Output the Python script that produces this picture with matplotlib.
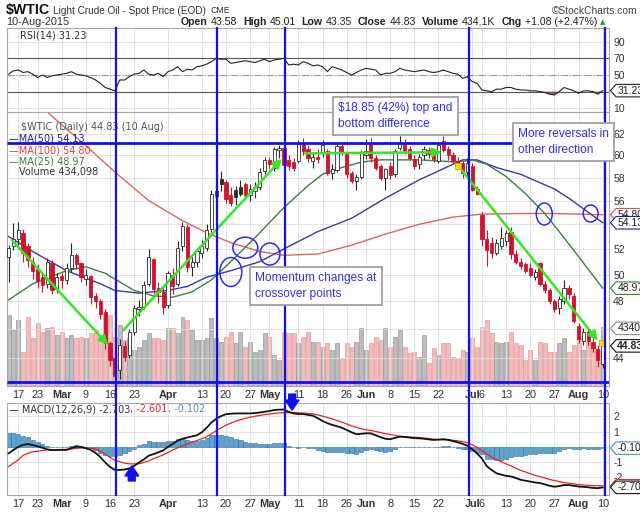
import numpy as np
import pandas as pd
import matplotlib
matplotlib.use('Agg')
import matplotlib.pyplot as plt
import matplotlib.transforms as mtrans
from matplotlib.patches import Rectangle, Ellipse
from matplotlib.lines import Line2D
from matplotlib.path import Path
from matplotlib.ticker import NullLocator

plt.rcParams['font.family'] = ['Liberation Sans', 'DejaVu Sans']

# ---------------- data ----------------
HOLIDAYS = ['2015-02-16', '2015-04-03', '2015-05-25', '2015-07-03']
days = [d for d in pd.bdate_range('2015-02-12', '2015-08-10')
        if d.strftime('%Y-%m-%d') not in HOLIDAYS]

PREV_CLOSE = 50.5
opens = [51.4,52.2,52.8,53.3,52.2,51.0,50.4,49.8,49.3,50.9,
         48.9,49.9,49.6,50.5,51.5,50.9,49.7,49.9,48.4,48.0,
         47.2,45.0,44.0,43.2,44.8,44.2,45.8,47.4,47.6,49.3,
         51.2,49.0,48.7,47.7,50.0,49.3,52.2,53.8,50.6,51.0,
         51.7,52.1,53.6,56.4,57.9,57.6,56.5,56.9,57.2,57.4,
         56.5,56.8,57.2,58.6,59.6,58.9,60.5,60.7,59.6,59.4,
         59.5,61.1,60.6,59.5,59.9,60.2,60.4,58.4,58.7,60.9,
         60.2,58.4,57.7,58.1,60.0,61.2,59.8,59.0,58.0,59.0,
         58.3,60.7,61.2,60.6,59.7,59.2,60.0,60.5,60.3,59.5,
         61.3,60.6,60.0,59.5,59.3,58.5,59.0,57.0,54.8,52.8,
         52.5,51.7,52.2,52.6,53.4,51.6,51.0,50.8,50.5,49.8,
         50.9,49.3,48.8,48.0,47.5,48.0,49.0,48.4,46.2,45.2,
         45.8,45.1,44.6,43.58]
highs = [52.3,54.1,54.2,53.6,52.5,51.4,50.8,50.2,51.3,51.1,
         50.1,50.1,50.9,52.5,51.7,51.0,50.4,50.0,48.6,48.2,
         47.4,45.2,44.3,45.3,45.2,46.0,47.7,48.1,49.5,52.0,
         51.3,49.4,49.0,50.3,50.5,52.6,54.2,54.0,51.4,52.0,
         52.7,54.0,56.9,57.2,58.6,57.8,57.2,57.3,57.8,57.6,
         57.4,57.6,58.9,59.9,59.9,60.8,61.0,61.1,60.0,59.8,
         61.4,61.6,61.0,60.3,60.6,61.4,60.6,59.2,61.1,61.1,
         60.4,58.6,58.3,60.5,61.5,61.6,60.0,59.2,58.9,59.4,
         60.6,61.8,61.5,60.9,60.0,60.1,60.9,60.8,60.3,61.2,
         61.8,60.9,60.3,59.9,59.5,59.8,59.3,57.3,55.0,53.5,
         53.0,52.8,53.8,53.5,53.8,51.9,51.3,51.0,50.9,50.4,
         51.0,49.5,49.0,48.2,48.4,49.6,49.2,48.6,46.4,46.1,
         46.0,45.5,44.9,45.01]
lows = [49.4,51.9,52.3,51.0,50.6,49.7,49.0,48.7,49.0,48.5,
        48.6,49.0,49.3,50.2,50.4,49.4,49.2,47.8,47.5,46.7,
        44.6,43.5,42.5,42.6,43.8,44.0,45.6,46.9,47.4,49.1,
        48.5,47.9,47.1,47.5,48.5,49.1,51.8,50.2,49.9,50.6,
        51.3,51.8,53.4,55.7,56.8,55.8,55.5,55.6,56.4,56.1,
        56.0,56.2,56.9,58.3,58.8,58.6,59.8,58.8,58.7,58.6,
        59.3,60.0,59.4,58.9,59.3,59.9,58.2,57.9,58.5,60.0,
        58.0,57.5,56.9,57.9,59.7,59.4,58.7,57.8,56.9,57.9,
        58.1,60.5,60.1,59.6,58.8,58.8,59.6,59.8,59.4,59.3,
        60.3,59.6,59.2,59.0,58.0,58.1,56.8,56.5,52.2,50.7,
        51.3,51.5,52.0,52.2,51.2,50.8,50.4,50.1,49.8,49.6,
        49.1,48.6,47.8,47.2,47.1,47.8,48.2,46.4,45.0,44.9,
        44.9,44.4,43.4,43.35]
closes = [52.1,52.8,53.5,51.7,51.1,50.3,49.5,49.2,51.0,48.8,
          49.8,49.6,50.5,51.5,50.8,49.8,50.0,48.3,48.0,47.1,
          45.0,43.9,42.8,44.9,44.1,45.8,47.5,47.6,49.2,51.4,
          48.9,48.7,47.6,50.1,49.1,52.1,53.9,50.6,51.0,51.8,
          52.2,53.5,56.6,56.8,57.4,56.1,55.8,56.3,56.6,56.5,
          57.0,57.2,58.5,59.6,59.2,60.6,60.7,59.1,59.0,58.9,
          61.1,60.4,59.8,59.9,59.7,61.0,58.4,58.8,60.9,60.2,
          58.3,57.7,58.1,60.2,60.4,59.8,58.9,58.0,58.8,58.2,
          60.4,61.2,60.4,59.8,59.0,59.9,60.6,60.1,59.7,61.0,
          60.5,60.0,59.5,59.3,58.4,59.3,56.9,56.6,52.8,51.9,
          51.7,52.5,52.9,53.3,51.6,51.0,50.7,50.3,50.0,50.2,
          49.3,48.8,48.0,47.4,48.2,49.0,48.5,46.6,45.3,45.8,
          45.2,44.7,43.9,44.83]
volume_k = [523,412,486,250,508,353,464,397,427,434,
            375,397,353,375,353,361,353,390,412,375,
            537,523,361,449,339,353,265,287,339,390,
            353,353,339,427,427,390,508,486,412,339,
            339,353,500,353,324,361,397,316,397,287,
            324,250,265,390,361,228,191,397,390,390,
            316,361,397,324,324,287,316,265,316,206,
            316,287,324,427,265,316,361,339,427,287,
            361,412,287,243,250,213,375,169,280,228,
            316,316,213,206,265,250,353,287,434,486,
            390,324,316,324,397,316,302,191,265,191,
            324,316,250,250,316,353,250,302,353,265,
            324,287,265,434.1]
rsi14 = [51,55,56,53,54,51,47,50,47,49, 50,51,52,54,51,50,49,47,44,40,
         35,33,31,44,44,48,51,52,56,51, 50,52,48,54,56,60,54,57,56,60,
         61,63,66,70,69,69,64,65,66,67, 66,65,67,69,66,68,69,70,62,63,
         62,66,64,61,62,60,54,60,58,56, 53,50,53,56,58,57,56,50,52,52,
         54,58,56,55,54,55,56,54,53,54, 56,54,52,51,46,48,42,40,32,31,
         30,33,33,35,35,33,32,32,31,31, 30,29,27,26,30,35,33,31,28,31,
         31,30,27,31.23]
macd = [-0.45,-0.22,-0.02,0.12,0.17,0.10,0.02,-0.08,-0.18,-0.24,
        -0.22,-0.22,-0.22,-0.10,0.0,-0.02,-0.11,-0.22,-0.42,-0.70,
        -1.05,-1.35,-1.55,-1.55,-1.52,-1.45,-1.28,-1.05,-0.85,-0.60,
        -0.50,-0.38,-0.25,-0.02,0.18,0.40,0.52,0.60,0.68,0.75,
        0.95,1.25,1.60,1.85,2.02,2.15,2.18,2.20,2.20,2.20,
        2.20,2.22,2.26,2.31,2.36,2.42,2.45,2.46,2.30,2.20,
        2.16,2.16,2.10,2.05,1.88,1.70,1.55,1.44,1.35,1.25,
        1.10,0.95,0.82,0.85,0.88,0.88,0.75,0.62,0.52,0.49,
        0.58,0.66,0.64,0.60,0.56,0.55,0.52,0.48,0.44,0.46,
        0.49,0.45,0.36,0.28,0.18,0.06,-0.18,-0.45,-0.80,-1.30,
        -1.55,-1.77,-1.86,-1.94,-1.98,-2.08,-2.20,-2.26,-2.32,-2.38,
        -2.42,-2.50,-2.60,-2.66,-2.62,-2.55,-2.55,-2.60,-2.65,-2.67,
        -2.70,-2.74,-2.76,-2.703]
signal = [-1.32,-1.10,-0.88,-0.58,-0.45,-0.34,-0.31,-0.26,-0.22,-0.22,
          -0.20,-0.19,-0.18,-0.16,-0.12,-0.09,-0.08,-0.10,-0.17,-0.30,
          -0.50,-0.72,-0.90,-1.00,-1.10,-1.14,-1.15,-1.13,-1.05,-0.95,
          -0.80,-0.68,-0.55,-0.40,-0.22,-0.08,0.05,0.17,0.30,0.40,
          0.52,0.65,0.85,1.05,1.25,1.42,1.55,1.68,1.78,1.87,
          1.95,2.01,2.07,2.12,2.16,2.20,2.23,2.25,2.25,2.25,
          2.24,2.22,2.20,2.17,2.10,2.02,1.93,1.83,1.73,1.62,
          1.50,1.38,1.28,1.18,1.12,1.07,1.00,0.93,0.86,0.80,
          0.74,0.68,0.66,0.63,0.62,0.60,0.57,0.53,0.49,0.47,
          0.45,0.44,0.42,0.38,0.33,0.25,0.12,-0.05,-0.28,-0.50,
          -0.70,-0.85,-1.00,-1.15,-1.28,-1.43,-1.58,-1.68,-1.80,-1.90,
          -2.00,-2.08,-2.18,-2.25,-2.32,-2.38,-2.43,-2.47,-2.52,-2.55,
          -2.57,-2.59,-2.60,-2.601]

# moving averages, read at sample days (day index, value)
ma50_day = [0, 5, 12, 19, 22, 27, 33, 37, 41, 46, 52, 57, 60, 64, 71, 78, 85, 92, 94, 97, 101, 106, 113, 116, 119, 123]
ma50_val = [53.0, 51.8, 50.3, 49.3, 48.8, 48.6, 48.8, 49.1, 49.8, 50.3, 51.0, 52.0, 52.6, 53.4, 54.5, 56.2,
            57.8, 59.2, 59.6, 59.6, 58.9, 58.3, 57.0, 56.2, 55.3, 54.13]
ma100_day = [0, 5, 10, 16, 22, 29, 36, 41, 46, 52, 57, 64, 71, 78, 85, 92, 98, 106, 113, 123]
ma100_val = [67.5, 65.4, 63.3, 60.9, 58.5, 56.0, 54.3, 53.3, 52.5, 51.8, 51.5, 51.6, 52.3, 53.2, 54.0,
             54.6, 54.85, 54.9, 54.9, 54.80]
ma25_day = [0, 5, 12, 16, 20, 26, 30, 34, 38, 42, 46, 51, 57, 62, 65, 69, 73, 77, 85, 93, 96, 99, 103,
            107, 111, 115, 119, 123]
ma25_val = [48.1, 49.3, 50.3, 50.6, 50.1, 48.8, 48.4, 48.3, 48.7, 49.6, 51.0, 52.9, 55.4, 57.3, 58.3, 58.9,
            59.4, 59.6, 59.6, 59.4, 59.6, 59.2, 58.1, 56.6, 54.9, 52.9, 50.9, 48.97]

tick_dates = ['2015-02-17', '2015-02-23', '2015-03-02', '2015-03-09', '2015-03-16', '2015-03-23',
              '2015-04-01', '2015-04-13', '2015-04-20', '2015-04-27', '2015-05-01', '2015-05-11',
              '2015-05-18', '2015-05-26', '2015-06-01', '2015-06-08', '2015-06-15', '2015-06-22',
              '2015-07-01', '2015-07-06', '2015-07-13', '2015-07-20', '2015-07-27', '2015-08-03',
              '2015-08-10']
tick_labels = ['17', '23', 'Mar', '9', '16', '23', 'Apr', '13', '20', '27', 'May', '11', '18', '26',
               'Jun', '8', '15', '22', 'Jul', '6', '13', '20', '27', 'Aug', '10']

# hand-drawn annotations of the original (day index, price)
vline_day = [22.2, 43.1, 57.2, 95.3, 123.5]
top_line, top_line_end, bottom_line = 61.16, 104.4, 42.45
green_arrows = [((0.7, 52.7), (20.6, 44.9)), ((23.7, 45.9), (56.6, 59.7)),
                ((61.4, 60.2), (89.7, 60.3)), ((93.0, 59.1), (122.0, 45.2))]
yellow_pts = [(93.0, 59.0), (122.8, 45.0)]
ellipses = [(49.0, 52.1, 25, 21), (54.1, 51.6, 20, 22), (46.0, 50.2, 22, 29),
            (110.9, 54.86, 16, 22), (120.5, 54.9, 15, 17)]
macd_arrows = [(25.5, -2.28, -1.28), (58.7, 3.48, 2.42)]

# ---------------- figure ----------------
W, H = 640, 514
fig = plt.figure(figsize=(6.4, 5.14), dpi=100)
fig.patch.set_facecolor('white')

def box(l, t, r, b):
    return [l / W, 1 - b / H, (r - l) / W, (b - t) / H]

n = len(days)
x = np.arange(n)
XL = (-0.33, 124.3)
o, h, l, c = map(np.array, (opens, highs, lows, closes))
prev = np.r_[PREV_CLOSE, c[:-1]]
up = c >= prev
didx = {d.strftime('%Y-%m-%d'): i for i, d in enumerate(days)}
tick_x = [didx[d] for d in tick_dates]

GRID = '#dedede'
def base_style(ax):
    ax.set_xlim(XL)
    for s in ax.spines.values():
        s.set_color('#a8a8a8'); s.set_linewidth(0.8)
    ax.yaxis.tick_right()
    ax.tick_params(axis='both', length=0, labelsize=7.5, labelcolor='#333333', pad=3)
    ax.set_xticks(tick_x)
    ax.grid(True, color=GRID, lw=0.6)
    ax.set_axisbelow(True)

def xlabels(ax):
    ax.set_xticklabels(tick_labels)
    for t in ax.get_xticklabels():
        if t.get_text().isalpha():
            t.set_fontweight('bold')
        t.set_fontsize(7.8)

# RSI panel
ax_r = fig.add_axes(box(7, 28, 609, 112))
base_style(ax_r)
ax_r.set_ylim(5.6, 106.4)
ax_r.set_yticks([10, 30, 50, 70, 90])
ax_r.set_yticklabels(['10', '', '50', '70', '90'])
ax_r.set_xticklabels([])
r = np.array(rsi14)
ax_r.axhline(70, color='#555555', lw=0.8)
ax_r.axhline(30, color='#555555', lw=0.8)
ax_r.axhline(50, color='#999999', lw=0.8, ls='-.')
ax_r.fill_between(x, r, 30, where=r < 30, interpolate=True, color='#a86a5e', lw=0)
ax_r.fill_between(x, r, 70, where=r > 70, interpolate=True, color='#a86a5e', lw=0)
ax_r.plot(x, r, color='#222222', lw=0.8)

# volume (background) + price panel
PB = box(7, 112, 609, 386)
ax_v = fig.add_axes(PB)
ax_v.set_xlim(XL)
ax_v.set_ylim(0, 2016)
ax_v.axis('off')
ax_v.bar(x, volume_k, width=0.82, color=np.where(up, '#bdbdbd', '#f2bcbc'),
         edgecolor=np.where(up, '#9a9a9a', '#e39a9a'), lw=0.5)

ax_p = fig.add_axes(PB)
ax_p.patch.set_visible(False)
ax_p.set_yscale('log')
base_style(ax_p)
ax_p.set_ylim(42.16, 64.13)
ax_p.yaxis.set_minor_locator(NullLocator())
ax_p.set_yticks([44, 46, 48, 50, 52, 54, 56, 58, 60, 62])
ax_p.set_yticklabels(['44', '', '48', '50', '52', '', '56', '58', '60', '62'])
xlabels(ax_p)

ax_p.plot(ma100_day, ma100_val, color='#e4625c', lw=1.0, zorder=2)
ax_p.plot(ma50_day, ma50_val, color='#3a3aa0', lw=1.0, zorder=2)
ax_p.plot(ma25_day, ma25_val, color='#3f7f3f', lw=1.0, zorder=2)

for i in range(n):
    col = '#2a2a2a' if up[i] else '#d2122e'
    ax_p.vlines(i, l[i], h[i], color=col, lw=0.8, zorder=3)
    lo, hi = min(o[i], c[i]), max(o[i], c[i])
    if hi - lo < 0.05:
        hi = lo + 0.05
    face = 'white' if c[i] > o[i] else col
    ax_p.add_patch(Rectangle((i - 0.33, lo), 0.66, hi - lo, facecolor=face,
                             edgecolor=col, lw=0.6, zorder=4))

BLUE = '#1010f0'
ax_p.hlines(top_line, XL[0], top_line_end, color=BLUE, lw=2.0, zorder=6)
ax_p.hlines(bottom_line, XL[0], XL[1], color=BLUE, lw=2.0, zorder=6)
for (a, b) in green_arrows:
    ax_p.annotate('', xy=b, xytext=a, zorder=7,
                  arrowprops=dict(arrowstyle='-|>', color='#33e81f', lw=1.8,
                                  mutation_scale=13, shrinkA=0, shrinkB=0))
for (px, py) in yellow_pts:
    ax_p.plot(px, py, 's', ms=5, mfc='#ffe600', mec='#e0a000', mew=0.6, zorder=8)

# MACD panel
ax_m = fig.add_axes(box(7, 403, 609, 495))
base_style(ax_m)
ax_m.set_ylim(-3.21, 2.89)
ax_m.set_yticks([-2, -1, 0, 1, 2])
ax_m.set_yticklabels(['-2', '-1', '', '1', '2'])
xlabels(ax_m)
hist = np.array(macd) - np.array(signal)
ax_m.bar(x, hist, width=0.85, color='#5aa3d2', edgecolor='#2d6d9d', lw=0.4, zorder=2)
ax_m.plot(x, signal, color='#f02020', lw=0.9, zorder=3)
ax_m.plot(x, macd, color='#111111', lw=1.3, zorder=4)
for (px, y0, y1) in macd_arrows:
    ax_m.annotate('', xy=(px, y1), xytext=(px, y0), annotation_clip=False, zorder=9,
                  arrowprops=dict(arrowstyle='simple,head_length=0.8,head_width=1.1,tail_width=0.55',
                                  fc=BLUE, ec=BLUE, mutation_scale=9, shrinkA=0, shrinkB=0))

# value tags on the right axis: small boxes pointing left
def tagbox(x0, y0, width, height, mutation_size):
    pad = mutation_size * 0.12
    x0, y0 = x0 - pad, y0 - pad
    x1, y1 = x0 + width + 2 * pad, y0 + height + 2 * pad
    ym, pt = (y0 + y1) / 2, (y1 - y0) * 0.45
    verts = [(x0, y0), (x1, y0), (x1, y1), (x0, y1), (x0 - pt, ym), (x0, y0)]
    codes = [Path.MOVETO] + [Path.LINETO] * 4 + [Path.CLOSEPOLY]
    return Path(verts, codes)

def tag(ax, val, txt, ec, bold=False, z=20):
    ax.annotate(txt, xy=(1, val), xycoords=('axes fraction', 'data'), xytext=(6, 0),
                textcoords='offset points', va='center', ha='left', fontsize=7.5,
                color='#222222', fontweight='bold' if bold else 'normal', zorder=z,
                bbox=dict(boxstyle=tagbox, fc='white', ec=ec, lw=0.8),
                annotation_clip=False)

tag(ax_r, 31.23, '31.23', '#222222')
tag(ax_p, 54.80, '54.80', '#e0504a')
tag(ax_p, 54.13, '54.13', '#20208a')
tag(ax_p, 48.97, '48.97', '#3f7f3f')
tag(ax_p, 46.05, '434098', '#8a8a8a')
tag(ax_p, 44.83, '44.83', '#111111', bold=True, z=21)
tag(ax_m, -0.102, '-0.102', '#4a90c0')
tag(ax_m, -2.601, '-2.601', '#f02020')
tag(ax_m, -2.703, '-2.703', '#111111', z=21)

# hand-drawn vertical lines across all panels, ellipses
tr = mtrans.blended_transform_factory(ax_p.transData, fig.transFigure)
for vx in vline_day:
    fig.add_artist(Line2D([vx, vx], [1 - 495 / H, 1 - 28 / H], transform=tr,
                          color=BLUE, lw=1.6, zorder=5))
for (ex, ey, ew, eh) in ellipses:
    cx, cy = ax_p.transData.transform((ex, ey))
    fig.add_artist(Ellipse((cx, cy), ew, eh, transform=mtrans.IdentityTransform(),
                           fill=False, ec='#2a2aff', lw=1.1, zorder=6))

# ---------------- texts ----------------
def ftext(px, py, s, **kw):
    return fig.text(px / W, 1 - py / H, s, **kw)

renderer = fig.canvas.get_renderer()
ftext(6, 10, '$WTIC', fontsize=10.2, fontweight='bold', va='center', color='#111111')
t = ftext(53, 10.5, 'Light Crude Oil - Spot Price (EOD)', fontsize=7.2, va='center', color='#333333')
ftext(53 + t.get_window_extent(renderer).width + 5, 10.5, 'CME', fontsize=6.3, va='center', color='#333333')
ftext(637, 10.5, '\u00a9StockCharts.com', fontsize=7.4, va='center', ha='right', color='#444444')
ftext(6, 22, '10-Aug-2015', fontsize=7.8, va='center', color='#333333')

parts = [('Open', 'bold', 3), ('43.58', 'normal', 6), ('High', 'bold', 3), ('45.01', 'normal', 6),
         ('Low', 'bold', 3), ('43.35', 'normal', 6), ('Close', 'bold', 3), ('44.83', 'normal', 6),
         ('Volume', 'bold', 3), ('434.1K', 'normal', 6), ('Chg', 'bold', 3), ('+1.08 (+2.47%)', 'normal', 3)]
objs, cur = [], 0.0
for s, wt, gap in parts:
    t = ftext(0, 22, s, fontsize=7.6, fontweight=wt, va='center', color='#222222')
    wdt = t.get_window_extent(renderer).width
    objs.append((t, cur))
    cur += wdt + gap
start = 600 - cur
for t, off in objs:
    t.set_x((start + off) / W)
ftext(600, 22, '\u25b2', fontsize=5, va='center', color='#1a9a1a', family='DejaVu Sans')

LEG = dict(fontsize=7, va='center', family='DejaVu Sans')
ftext(20, 36, 'RSI(14) 31.23', color='#333333', **LEG)
ftext(21, 127, '$WTIC (Daily) 44.83 (10 Aug)', color='#555555', **LEG)
ftext(9, 139, '\u2014MA(50) 54.13', color='#20208a', **LEG)
ftext(9, 150, '\u2014MA(100) 54.80', color='#e0403a', **LEG)
ftext(9, 161, '\u2014MA(25) 48.97', color='#3f7f3f', **LEG)
ftext(19, 172, 'Volume 434,098', color='#333333', **LEG)
mparts = [('\u2014 MACD(12,26,9) -2.703', '#333333'), (', -2.601', '#f02020'), (', -0.102', '#4a90c0')]
cx0 = 9
for s, col in mparts:
    t = ftext(cx0, 409, s, color=col, **LEG)
    cx0 += t.get_window_extent(renderer).width

NOTE = dict(fontsize=8.6, color='#2f2ff0', va='top', ha='left', linespacing=1.45, zorder=12,
            bbox=dict(boxstyle='square,pad=0.45', fc='white', ec='#a0a0a0', lw=1.3))
ftext(338, 102, '$18.85 (42%) top and\nbottom difference', **NOTE)
ftext(518, 128, 'More reversals in\nother direction', **NOTE)
ftext(255, 272, 'Momentum changes at\ncrossover points   ', **NOTE)

fig.savefig('out.png', dpi=100, facecolor='white')
